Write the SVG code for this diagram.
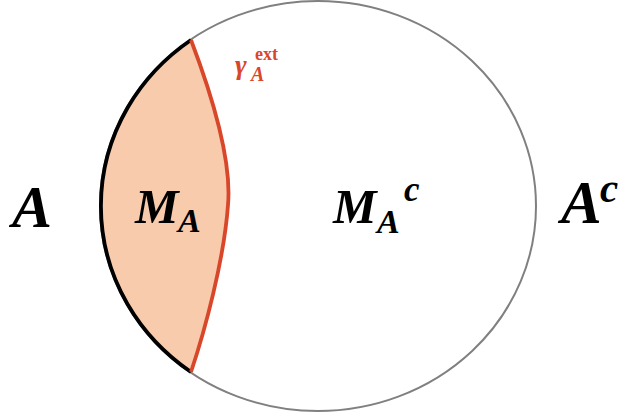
<svg xmlns="http://www.w3.org/2000/svg" width="625" height="416" viewBox="0 0 625 416">
<style>
.lbl{font-family:"Liberation Serif","DejaVu Serif",serif;font-weight:bold;font-style:italic;fill:#000}
.red{fill:#D9472B}
.up{font-style:normal}
</style>
<rect width="625" height="416" fill="#fff"/>
<g id="region-MA">
<path d="M191,40 A218,205 0 0 0 191,372 C205,330 224,260 228,205 C232,160 210,90 191,40 Z" fill="#F8CBAD" stroke="none"/>
</g>
<g id="ellipse-A">
<ellipse cx="318" cy="206" rx="218" ry="205" fill="none" stroke="#808080" stroke-width="2"/>
</g>
<g id="connectors">
<path id="boundary-black" d="M191,40 A218,205 0 0 0 191,372" fill="none" stroke="#000" stroke-width="3.8"/>
<path id="gamma-ext" d="M191,40 C210,90 232,160 228,205 C224,260 205,330 191,372" fill="none" stroke="#D9472B" stroke-width="3.8"/>
</g>
<g id="label-A">
<text class="lbl" x="12" y="227" font-size="60">A</text>
</g>
<g id="label-MA">
<text class="lbl" x="135" y="223" font-size="49">M</text>
<text class="lbl" x="178" y="232" font-size="34">A</text>
</g>
<g id="label-MAc">
<text class="lbl" x="333" y="223" font-size="49">M</text>
<text class="lbl" x="377" y="233" font-size="34">A</text>
<text class="lbl" x="404" y="201" font-size="35">c</text>
</g>
<g id="label-Ac">
<text class="lbl" x="561" y="223" font-size="61">A</text>
<text class="lbl" x="600" y="202" font-size="41">c</text>
</g>
<g id="label-gamma">
<text class="lbl red" x="235" y="74" font-size="28">γ</text>
<text class="lbl red" x="251" y="81" font-size="20">A</text>
<text class="lbl red up" x="255" y="60" font-size="18">ext</text>
</g>
</svg>
